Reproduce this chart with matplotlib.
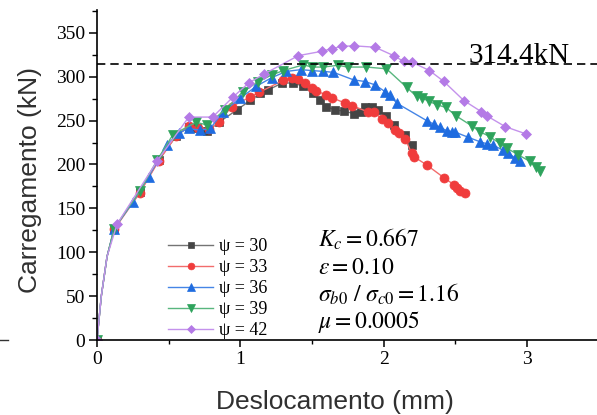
import matplotlib
matplotlib.use('Agg')
import matplotlib.pyplot as plt
from matplotlib.lines import Line2D
from matplotlib.ticker import MultipleLocator

# data (displacement mm, load kN)
x30 = [0, 0.03, 0.07, 0.12, 0.30, 0.43, 0.55, 0.64, 0.70, 0.77, 0.85, 0.975, 1.07, 1.14, 1.195, 1.29, 1.37,
       1.44, 1.51, 1.556, 1.60, 1.66, 1.72, 1.79, 1.84, 1.87, 1.92, 1.96, 2.02, 2.07, 2.15, 2.196]
y30 = [0, 50, 95, 127, 169, 205, 232, 243, 241, 238, 248, 262, 273, 281, 285, 292.6, 293,
       289, 281, 273, 266, 262, 261, 258, 260, 266, 266, 262, 255, 245, 234, 222]

x33 = [0, 0.03, 0.07, 0.12, 0.30, 0.43, 0.55, 0.64, 0.707, 0.78, 0.85, 0.94, 1.07, 1.13, 1.30, 1.36, 1.405,
       1.45, 1.50, 1.53, 1.60, 1.64, 1.73, 1.78, 1.89, 1.93, 1.99, 2.03, 2.08, 2.11, 2.15, 2.196, 2.21,
       2.30, 2.42, 2.49, 2.51, 2.53, 2.57]
y33 = [0, 50, 95, 126, 168, 204, 232, 244, 241, 240, 248, 266, 277, 282, 296, 298, 297,
       292.6, 287, 284, 279, 276, 270, 267, 260, 259.5, 252, 247, 239, 236, 229, 213, 209,
       199.5, 185, 177, 173, 170, 168]

x36 = [0, 0.03, 0.07, 0.12, 0.25, 0.36, 0.486, 0.57, 0.64, 0.72, 0.79, 0.88, 1.0, 1.11, 1.22, 1.32, 1.42,
       1.50, 1.58, 1.65, 1.79, 1.87, 1.94, 2.01, 2.045, 2.09, 2.30, 2.35, 2.39, 2.44, 2.475, 2.50,
       2.59, 2.67, 2.72, 2.76, 2.835, 2.87, 2.92, 2.95]
y36 = [0, 50, 95, 127, 157, 186, 222, 236, 241, 239, 241, 260, 275.5, 289, 299, 306, 308,
       307, 306, 305, 296.4, 294.5, 290.7, 283, 279, 270, 250, 246, 242.5, 238.6, 237.5, 236.8,
       231, 226, 223.6, 222.4, 216, 213, 207, 203.5]

x39 = [0, 0.03, 0.07, 0.12, 0.30, 0.42, 0.53, 0.69, 0.77, 0.89, 1.02, 1.125, 1.22, 1.30, 1.44, 1.50,
       1.58, 1.68, 1.75, 1.88, 2.02, 2.16, 2.23, 2.27, 2.32, 2.37, 2.435, 2.505, 2.615, 2.67, 2.74,
       2.81, 2.86, 2.94, 3.02, 3.06, 3.09]
y39 = [0, 50, 95, 127, 170, 205, 234, 248, 245, 262, 283, 294.5, 302, 307, 313.5, 311,
       311, 313, 311, 311, 309, 288, 277.5, 275.5, 271.8, 268, 265, 255.4, 244, 237.5, 231.8,
       224, 218.5, 211, 203.5, 197.4, 192]

x42 = [0, 0.03, 0.07, 0.14, 0.42, 0.64, 0.807, 0.95, 1.06, 1.165, 1.405, 1.57, 1.64, 1.71, 1.79, 1.94,
       2.07, 2.14, 2.196, 2.32, 2.42, 2.56, 2.68, 2.72, 2.85, 2.99]
y42 = [0, 50, 95, 132, 204, 254, 254, 277, 293, 303, 324, 329, 332, 334.6, 335.2, 333.6,
       324, 317.4, 316.7, 307, 294.6, 272.8, 260.3, 255.4, 243, 235]

labels = ['ψ = 30', 'ψ = 33', 'ψ = 36', 'ψ = 39', 'ψ = 42']
peak_load = 314.4

series = [(x30, y30), (x33, y33), (x36, y36), (x39, y39), (x42, y42)]
markers = ['s', 'o', '^', 'v', 'D']
mcolors = ['#454545', '#f03c3c', '#1f6ce0', '#2ea35c', '#b47ae6']
lcolors = ['#747474', '#f26c6c', '#4585e6', '#58b67e', '#c492ec']
msizes = [6, 6.5, 7, 7, 5.5]

plt.rcParams['mathtext.fontset'] = 'stix'
serif = 'Liberation Serif'

fig = plt.figure(figsize=(5.97, 4.15), dpi=100)
ax = fig.add_axes([97 / 597, 75 / 415, 501.6 / 597, 330 / 415])

for (xs, ys), lab, m, mc, lc, ms in zip(series, labels, markers, mcolors, lcolors, msizes):
    ax.plot(xs, ys, color=lc, lw=1.0, marker=m, markersize=ms, markerfacecolor=mc,
            markeredgecolor=mc, markeredgewidth=0.5,
            markevery=[0] + list(range(3, len(xs))), label=lab)

ax.axhline(peak_load, color='black', lw=1.2, ls=(0, (5, 3)))
ax.text(2.59, peak_load + 1.5, '314.4kN', fontsize=21, family=serif, va='baseline')

ax.set_xlim(0, 3.5)
ax.set_ylim(0, 376)
ax.xaxis.set_major_locator(MultipleLocator(1))
ax.xaxis.set_minor_locator(MultipleLocator(0.5))
ax.yaxis.set_major_locator(MultipleLocator(50))
ax.yaxis.set_minor_locator(MultipleLocator(25))
for s in ['top', 'right']:
    ax.spines[s].set_visible(False)
for s in ['left', 'bottom']:
    ax.spines[s].set_linewidth(1.2)
ax.tick_params(axis='x', which='major', length=5, width=1.1, labelsize=14, pad=3)
ax.tick_params(axis='x', which='minor', length=3, width=1.0)
ax.tick_params(axis='y', which='major', length=6, width=1.1, labelsize=14, pad=2.5)
ax.tick_params(axis='y', which='minor', length=3.5, width=1.0)
for lbl in ax.get_xticklabels() + ax.get_yticklabels():
    lbl.set_family(serif)

ax.set_xlabel('Deslocamento (mm)', fontsize=19, color='#303030', family='Liberation Sans')
ax.set_ylabel('Carregamento (kN)', fontsize=19, color='#303030', family='Liberation Sans')
ax.xaxis.label.set_verticalalignment('center')
ax.yaxis.label.set_verticalalignment('center')
ax.xaxis.set_label_coords((335 - 97) / 501.6, (340 - 402) / 330)
ax.yaxis.set_label_coords((30 - 97) / 501.6, (340 - 180) / 330)

ax.legend(loc='upper left', bbox_to_anchor=(0.124, 0.335), frameon=False,
          prop={'family': serif, 'size': 13}, handlelength=2.5, handletextpad=0.3,
          labelspacing=0.22, borderpad=0, markerscale=0.75)

notes = [r'$K_c = 0.667$', r'$\varepsilon = 0.10$', r'$\sigma_{b0}\ /\ \sigma_{c0} = 1.16$', r'$\mu = 0.0005$']
for i, t in enumerate(notes):
    ax.text(0.44, 0.305 - i * 0.083, t, transform=ax.transAxes, fontsize=17, va='center')

fig.add_artist(Line2D([0, 8 / 597], [1 - 340 / 415] * 2, color='#333333', lw=1.0))

fig.savefig('out.png', dpi=100)
